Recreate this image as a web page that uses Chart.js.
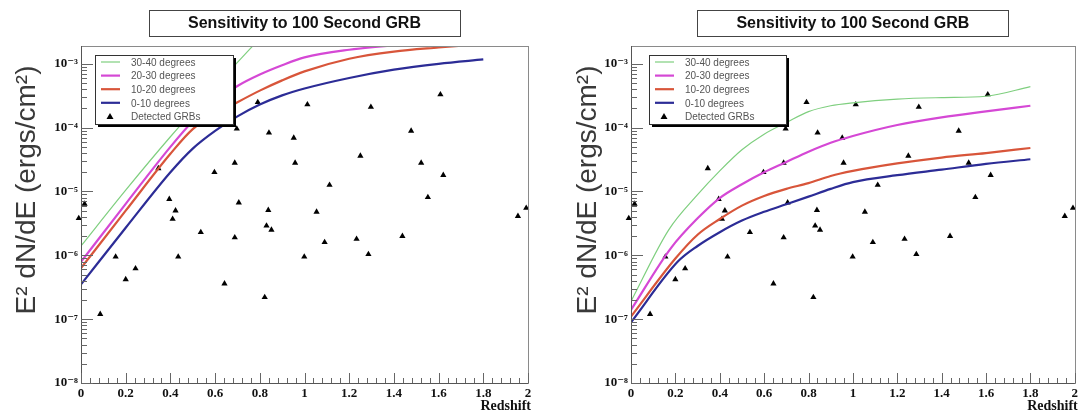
<!DOCTYPE html>
<html><head><meta charset="utf-8">
<script src="https://cdn.jsdelivr.net/npm/chart.js@4/dist/chart.umd.min.js"></script>
<style>
html,body{margin:0;padding:0;background:#fff;}
#wrap{position:relative;width:1081px;height:412px;overflow:hidden;}
.panel{position:absolute;top:0;}
</style></head><body>
<div id="wrap">
<div class="panel" style="left:0"><canvas id="c1" width="540" height="412"></canvas></div>
<div class="panel" style="left:540px"><canvas id="c2" width="541" height="412"></canvas></div>
</div>
<script>
// ---------- text ----------
const panelTitle = 'Sensitivity to 100 Second GRB';
const yAxisTitle = 'E² dN/dE (ergs/cm²)';
const xAxisTitle = 'Redshift';
const seriesLabels = ['30-40 degrees', '20-30 degrees', '10-20 degrees', '0-10 degrees', 'Detected GRBs'];

// ---------- ticks ----------
const xTickValues = [0, 0.2, 0.4, 0.6, 0.8, 1, 1.2, 1.4, 1.6, 1.8, 2];
const xTickLabels = ['0', '0.2', '0.4', '0.6', '0.8', '1', '1.2', '1.4', '1.6', '1.8', '2'];
const yTickValues = [1e-8, 1e-7, 1e-6, 1e-5, 1e-4, 1e-3];
const yTickLabels = ['10⁻⁸', '10⁻⁷', '10⁻⁶', '10⁻⁵', '10⁻⁴', '10⁻³'];

// ---------- detected GRBs (same in both panels) ----------
const grbRedshift = [-0.01, 0.016, 0.086, 0.155, 0.2, 0.244, 0.346, 0.395, 0.423, 0.41, 0.435, 0.536, 0.597, 0.642, 0.688, 0.688, 0.697, 0.706, 0.791, 0.822, 0.83, 0.838, 0.841, 0.852, 0.952, 0.958, 0.999, 1.013, 1.054, 1.09, 1.112, 1.233, 1.25, 1.286, 1.297, 1.438, 1.477, 1.522, 1.552, 1.608, 1.621, 1.955, 1.992];
const grbFlux = [3.8e-6, 6.4e-6, 1.2e-7, 9.5e-7, 4.2e-7, 6.2e-7, 2.3e-5, 7.6e-6, 5.0e-6, 3.7e-6, 9.5e-7, 2.3e-6, 2.0e-5, 3.6e-7, 2.8e-5, 1.9e-6, 9.6e-5, 6.7e-6, 2.5e-4, 2.2e-7, 2.9e-6, 5.1e-6, 8.3e-5, 2.5e-6, 6.9e-5, 2.8e-5, 9.5e-7, 2.3e-4, 4.8e-6, 1.6e-6, 1.26e-5, 1.8e-6, 3.6e-5, 1.04e-6, 2.1e-4, 2.0e-6, 8.9e-5, 2.8e-5, 8.1e-6, 3.3e-4, 1.8e-5, 4.1e-6, 5.5e-6];

// ---------- left panel sensitivity curves ----------
const leftZ30_40 = [0, 0.2, 0.4, 0.6, 0.8];
const leftF30_40 = [1.4e-6, 1.05e-5, 7.2e-5, 4.4e-4, 2.5e-3];
const leftZ20_30 = [0, 0.2, 0.4, 0.5, 0.6, 0.7, 0.8, 0.9, 1.0, 1.2, 1.4, 1.6];
const leftF20_30 = [7.9e-7, 6.4e-6, 5.0e-5, 1.26e-4, 2.6e-4, 4.5e-4, 6.8e-4, 9.5e-4, 1.26e-3, 1.66e-3, 1.95e-3, 2.2e-3];
const leftZ10_20 = [0, 0.2, 0.4, 0.5, 0.6, 0.7, 0.8, 0.9, 1.0, 1.2, 1.4, 1.6, 1.8];
const leftF10_20 = [6.3e-7, 5.0e-6, 3.9e-5, 9.5e-5, 1.6e-4, 2.5e-4, 3.8e-4, 5.5e-4, 7.6e-4, 1.2e-3, 1.55e-3, 1.8e-3, 2.05e-3];
const leftZ0_10 = [0, 0.2, 0.4, 0.5, 0.6, 0.7, 0.8, 0.9, 1.0, 1.2, 1.4, 1.6, 1.8];
const leftF0_10 = [3.5e-7, 2.7e-6, 2.0e-5, 4.7e-5, 8.9e-5, 1.5e-4, 2.3e-4, 3.2e-4, 4.1e-4, 6.0e-4, 8.1e-4, 1.0e-3, 1.17e-3];

// ---------- right panel sensitivity curves ----------
const rightZ30_40 = [0, 0.17, 0.3, 0.4, 0.5, 0.6, 0.7, 0.8, 0.9, 1.0, 1.2, 1.4, 1.6, 1.8];
const rightF30_40 = [1.9e-7, 2.5e-6, 8.9e-6, 2.1e-5, 4.5e-5, 7.9e-5, 1.2e-4, 1.78e-4, 2.2e-4, 2.45e-4, 2.8e-4, 2.95e-4, 3.1e-4, 4.4e-4];
const rightZ20_30 = [0, 0.18, 0.3, 0.4, 0.5, 0.6, 0.7, 0.8, 0.9, 1.0, 1.2, 1.4, 1.6, 1.8];
const rightF20_30 = [1.4e-7, 1.3e-6, 3.8e-6, 7.9e-6, 1.3e-5, 2.0e-5, 2.9e-5, 4.2e-5, 5.8e-5, 7.4e-5, 1.1e-4, 1.45e-4, 1.8e-4, 2.2e-4];
const rightZ10_20 = [0, 0.2, 0.3, 0.4, 0.5, 0.6, 0.7, 0.8, 0.9, 1.0, 1.2, 1.4, 1.6, 1.8];
const rightF10_20 = [1.1e-7, 8.9e-7, 2.1e-6, 3.7e-6, 6.0e-6, 8.5e-6, 1.1e-5, 1.35e-5, 1.75e-5, 2.1e-5, 2.75e-5, 3.4e-5, 4.0e-5, 4.8e-5];
const rightZ0_10 = [0, 0.21, 0.3, 0.4, 0.5, 0.6, 0.7, 0.8, 0.9, 1.0, 1.2, 1.4, 1.6, 1.8];
const rightF0_10 = [8.9e-8, 7.9e-7, 1.4e-6, 2.3e-6, 3.5e-6, 4.8e-6, 6.3e-6, 8.3e-6, 1.1e-5, 1.4e-5, 1.8e-5, 2.2e-5, 2.7e-5, 3.2e-5];

// ---------- styles ----------
const lineColors = ['#7fcf7f', '#d548d5', '#d8553a', '#2c2c96'];
const lineWidths = [1.2, 2.2, 2.2, 2.2];

function pts(zs, fs) { return zs.map((z, i) => ({ x: z, y: fs[i] })); }

// frame + ROOT-like inward ticks
const frameTicks = {
  id: 'frameTicks',
  afterDatasetsDraw(chart) {
    const ctx = chart.ctx, a = chart.chartArea, xs = chart.scales.x, ys = chart.scales.y;
    ctx.save();
    ctx.lineWidth = 1;
    ctx.strokeStyle = '#8a8a8a';
    ctx.strokeRect(Math.round(a.left) + 0.5, Math.round(a.top) + 0.5, Math.round(a.width), Math.round(a.height));
    ctx.strokeStyle = '#555';
    ctx.beginPath();
    ctx.moveTo(Math.round(a.left) + 0.5, a.top); ctx.lineTo(Math.round(a.left) + 0.5, a.bottom);
    ctx.moveTo(a.left, Math.round(a.bottom) + 0.5); ctx.lineTo(a.right, Math.round(a.bottom) + 0.5);
    ctx.stroke();
    ctx.strokeStyle = '#666';
    ctx.beginPath();
    for (let e = -8; e <= -3; e++) {
      for (let k = 1; k <= 9; k++) {
        const v = k * Math.pow(10, e);
        if (v > ys.max) break;
        const py = Math.round(ys.getPixelForValue(v)) + 0.5;
        const len = k === 1 ? 12 : 6;
        ctx.moveTo(a.left, py); ctx.lineTo(a.left + len, py);
      }
    }
    for (let i = 0; i <= 50; i++) {
      const px = Math.round(xs.getPixelForValue(i * 0.04)) + 0.5;
      const len = i % 5 === 0 ? 10 : 5;
      ctx.moveTo(px, a.bottom); ctx.lineTo(px, a.bottom - len);
    }
    ctx.stroke();
    ctx.restore();
  }
};

// titles, legend
const decor = {
  id: 'decor',
  afterDraw(chart, args, opts) {
    const ctx = chart.ctx, a = chart.chartArea;
    ctx.save();
    // title box
    const cx = (a.left + a.right) / 2;
    const bw = 311, bh = 26, by = 10;
    ctx.fillStyle = '#fff';
    ctx.fillRect(cx - bw / 2, by, bw, bh);
    ctx.strokeStyle = '#444'; ctx.lineWidth = 1;
    ctx.strokeRect(Math.round(cx - bw / 2) + 0.5, by + 0.5, bw, bh);
    ctx.fillStyle = '#111';
    ctx.font = 'bold 16px "Liberation Sans", Arial, sans-serif';
    ctx.textAlign = 'center'; ctx.textBaseline = 'middle';
    ctx.fillText(panelTitle, cx, by + bh / 2 + 1);
    // y title
    ctx.save();
    ctx.translate(opts.yTitleX, 190);
    ctx.rotate(-Math.PI / 2);
    ctx.font = '28px "Liberation Sans", Arial, sans-serif';
    ctx.fillStyle = '#3a3a3a';
    ctx.textAlign = 'center'; ctx.textBaseline = 'alphabetic';
    ctx.fillText(yAxisTitle, 0, 0);
    ctx.restore();
    // x title
    ctx.font = 'bold 14px "Liberation Serif", "Times New Roman", serif';
    ctx.fillStyle = '#111';
    ctx.textAlign = 'right'; ctx.textBaseline = 'alphabetic';
    ctx.fillText(xAxisTitle, a.right + 3, 410);
    // legend box with shadow
    const L = opts.legend;
    ctx.fillStyle = '#000';
    ctx.fillRect(L.x + 3, L.y + 3, L.w, L.h);
    ctx.fillStyle = '#fff';
    ctx.fillRect(L.x, L.y, L.w, L.h);
    ctx.strokeStyle = '#333';
    ctx.strokeRect(L.x + 0.5, L.y + 0.5, L.w, L.h);
    ctx.font = '10px "Liberation Sans", Arial, sans-serif';
    ctx.textAlign = 'left'; ctx.textBaseline = 'middle';
    chart.data.datasets.forEach((ds, i) => {
      const ry = L.y + 7 + i * 13.6;
      if (ds.showLine) {
        ctx.strokeStyle = ds.borderColor; ctx.lineWidth = ds.borderWidth;
        ctx.beginPath(); ctx.moveTo(L.x + 6, ry); ctx.lineTo(L.x + 25, ry); ctx.stroke();
      } else {
        ctx.fillStyle = '#000';
        ctx.beginPath();
        ctx.moveTo(L.x + 15, ry - 3.5); ctx.lineTo(L.x + 18.5, ry + 2.5); ctx.lineTo(L.x + 11.5, ry + 2.5);
        ctx.closePath(); ctx.fill();
      }
      ctx.fillStyle = '#555';
      ctx.fillText(ds.label, L.x + 36, ry + 1);
    });
    ctx.restore();
  }
};

function makeChart(id, curves, yWidth, rightPad, yTitleX, legend) {
  const datasets = curves.map((c, i) => ({
    label: seriesLabels[i],
    data: pts(c[0], c[1]),
    showLine: true,
    borderColor: lineColors[i],
    backgroundColor: lineColors[i],
    borderWidth: lineWidths[i],
    pointRadius: 0,
    cubicInterpolationMode: 'monotone',
    fill: false
  }));
  datasets.push({
    label: seriesLabels[4],
    data: pts(grbRedshift, grbFlux),
    showLine: false,
    pointStyle: 'triangle',
    pointRadius: 3.6,
    backgroundColor: '#000',
    borderColor: '#000',
    borderWidth: 0,
    clip: false
  });
  return new Chart(document.getElementById(id), {
    type: 'scatter',
    data: { datasets },
    options: {
      responsive: false,
      animation: false,
      events: [],
      layout: { padding: { top: 46, left: 0, right: rightPad, bottom: 0 } },
      plugins: { legend: { display: false }, tooltip: { enabled: false }, decor: { yTitleX, legend } },
      scales: {
        x: {
          type: 'linear', min: 0, max: 2,
          grid: { display: false, drawTicks: false, tickLength: 0 }, border: { display: false },
          afterBuildTicks: s => { s.ticks = xTickValues.map(v => ({ value: v })); },
          afterFit: s => { s.height = 29; },
          ticks: {
            autoSkip: false, maxRotation: 0, padding: 3, color: '#111',
            font: { family: '"Liberation Serif", "Times New Roman", serif', size: 13, weight: 'bold' },
            callback: (v, i) => xTickLabels[i]
          }
        },
        y: {
          type: 'logarithmic', min: 1e-8, max: 1.9e-3,
          grid: { display: false, drawTicks: false, tickLength: 0 }, border: { display: false },
          afterBuildTicks: s => { s.ticks = yTickValues.map(v => ({ value: v })); },
          afterFit: s => { s.width = yWidth; },
          ticks: {
            autoSkip: false, padding: 3, color: '#111',
            font: { family: '"Liberation Serif", "DejaVu Serif", serif', size: 13, weight: 'bold' },
            callback: (v, i) => yTickLabels[i]
          }
        }
      }
    },
    plugins: [frameTicks, decor]
  });
}

makeChart('c1', [[leftZ30_40, leftF30_40], [leftZ20_30, leftF20_30], [leftZ10_20, leftF10_20], [leftZ0_10, leftF0_10]],
  81, 12, 35, { x: 95, y: 55, w: 138, h: 69 });
makeChart('c2', [[rightZ30_40, rightF30_40], [rightZ20_30, rightF20_30], [rightZ10_20, rightF10_20], [rightZ0_10, rightF0_10]],
  91, 4, 56, { x: 109, y: 55, w: 137, h: 69 });
</script>
</body></html>
